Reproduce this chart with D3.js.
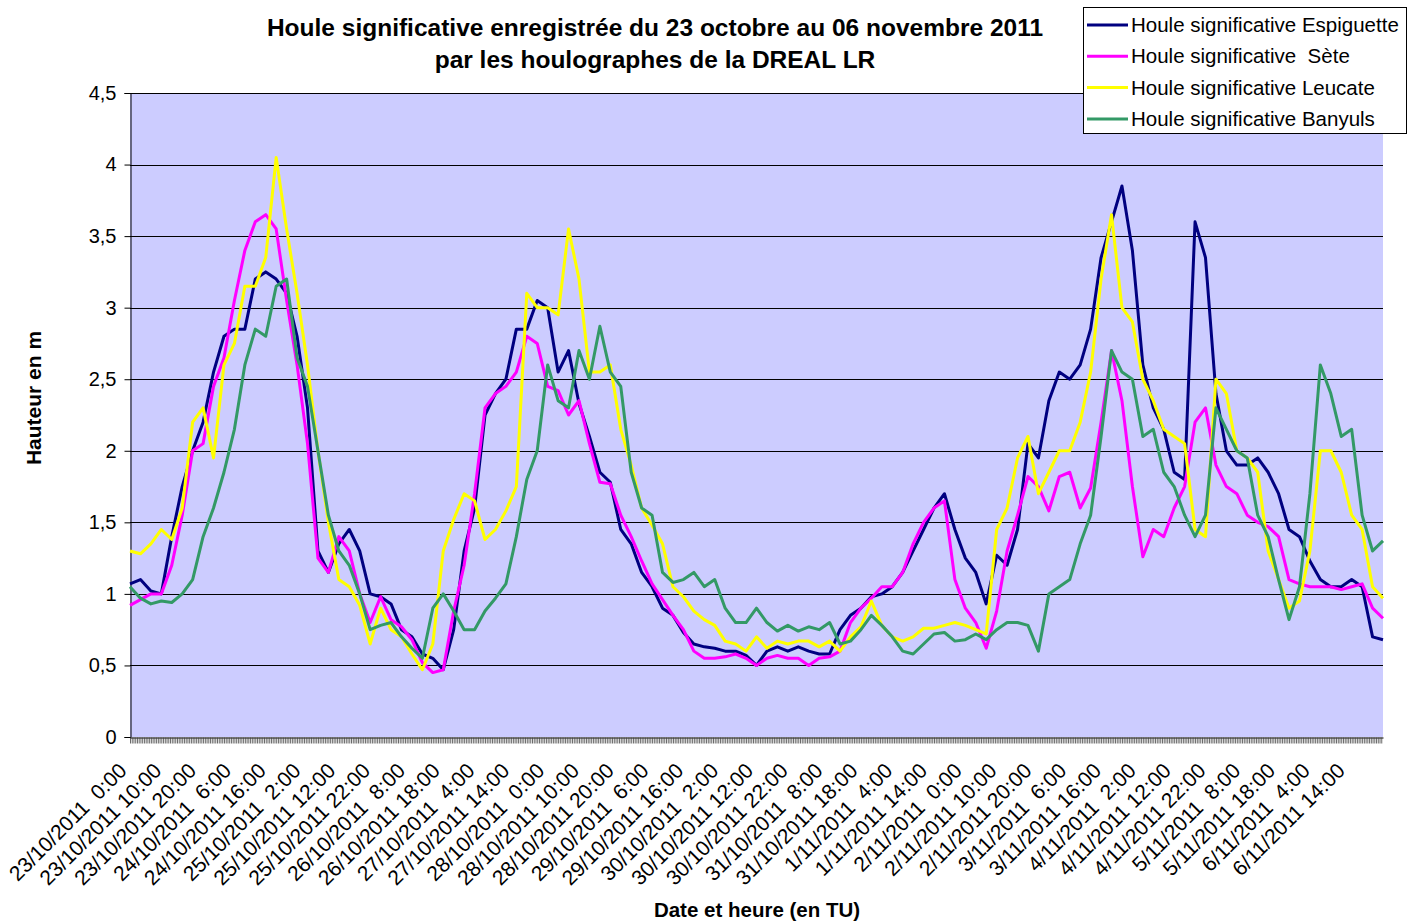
<!DOCTYPE html>
<html>
<head>
<meta charset="utf-8">
<script src="https://d3js.org/d3.v7.min.js"></script>
<style>
    body { margin: 0; background: #fff; }
    text { font-family: Arial, "Liberation Sans", sans-serif; }
    .ttl { font-weight: bold; }
</style>
</head>
<body>
<svg id="chart"></svg>
<script>
// Series names (legend order = drawing order)
var seriesNames = ["Houle significative Espiguette", "Houle significative  Sète",
                   "Houle significative Leucate", "Houle significative Banyuls"];
var seriesColors = ["#000080", "#ff00ff", "#ffff00", "#339966"];

// Wave height (m), one reading every 3 hours from 23/10/2011 0:00 to 07/11/2011 0:00
var espiguette = [
    1.07,1.1,1.02,1.0,1.4,1.75,2.0,2.2,2.55,2.8,
    2.85,2.85,3.2,3.25,3.2,3.1,2.8,2.3,1.3,1.15,
    1.35,1.45,1.3,1.0,0.98,0.93,0.75,0.7,0.58,0.55,
    0.47,0.75,1.3,1.6,2.25,2.4,2.5,2.85,2.85,3.05,
    3.0,2.55,2.7,2.33,2.1,1.85,1.78,1.45,1.35,1.15,
    1.05,0.9,0.85,0.73,0.65,0.63,0.62,0.6,0.6,0.57,
    0.5,0.6,0.63,0.6,0.63,0.6,0.58,0.58,0.75,0.85,
    0.9,0.98,1.0,1.05,1.15,1.3,1.45,1.6,1.7,1.45,
    1.25,1.15,0.93,1.27,1.2,1.45,2.05,1.95,2.35,2.55,
    2.5,2.6,2.85,3.35,3.6,3.85,3.4,2.6,2.3,2.15,
    1.85,1.8,3.6,3.35,2.4,2.0,1.9,1.9,1.95,1.85,
    1.7,1.45,1.4,1.23,1.1,1.05,1.05,1.1,1.05,0.7,
    0.68];
var sete = [
    0.92,0.96,1.0,1.0,1.2,1.55,2.0,2.05,2.45,2.65,
    3.05,3.4,3.6,3.65,3.55,3.05,2.6,2.05,1.25,1.15,
    1.4,1.3,1.0,0.8,0.98,0.82,0.77,0.68,0.52,0.45,
    0.47,0.88,1.2,1.7,2.3,2.4,2.45,2.55,2.8,2.75,
    2.45,2.42,2.25,2.35,2.05,1.78,1.77,1.55,1.4,1.23,
    1.07,0.96,0.85,0.75,0.6,0.55,0.55,0.56,0.58,0.55,
    0.5,0.55,0.57,0.55,0.55,0.5,0.55,0.56,0.6,0.8,
    0.9,0.97,1.05,1.05,1.15,1.35,1.5,1.6,1.65,1.1,
    0.9,0.8,0.62,0.88,1.3,1.55,1.82,1.75,1.58,1.82,
    1.85,1.6,1.74,2.2,2.7,2.35,1.75,1.26,1.45,1.4,
    1.6,1.75,2.2,2.3,1.9,1.75,1.7,1.55,1.5,1.47,
    1.4,1.1,1.07,1.05,1.05,1.05,1.03,1.05,1.07,0.9,
    0.83];
var leucate = [
    1.3,1.28,1.35,1.45,1.38,1.6,2.2,2.3,1.95,2.6,
    2.75,3.15,3.15,3.35,4.05,3.55,3.1,2.6,2.0,1.5,
    1.1,1.05,0.92,0.65,0.9,0.75,0.7,0.58,0.47,0.65,
    1.3,1.52,1.7,1.65,1.38,1.45,1.58,1.75,3.1,3.0,
    3.0,2.95,3.55,3.2,2.55,2.55,2.6,2.15,1.9,1.6,
    1.48,1.35,1.05,0.98,0.88,0.82,0.78,0.67,0.65,0.6,
    0.7,0.62,0.67,0.65,0.67,0.67,0.63,0.67,0.6,0.7,
    0.77,0.95,0.78,0.7,0.67,0.7,0.76,0.76,0.78,0.8,
    0.78,0.75,0.72,1.45,1.6,1.95,2.1,1.7,1.85,2.0,
    2.0,2.2,2.55,3.2,3.65,3.0,2.9,2.5,2.35,2.15,
    2.1,2.05,1.45,1.4,2.5,2.4,2.0,1.95,1.85,1.3,
    1.1,0.9,0.95,1.3,2.0,2.0,1.85,1.55,1.45,1.05,
    0.97];
var banyuls = [
    1.05,0.97,0.93,0.95,0.94,1.0,1.1,1.4,1.6,1.85,
    2.15,2.6,2.85,2.8,3.15,3.2,2.65,2.45,2.0,1.55,
    1.3,1.2,1.0,0.75,0.78,0.8,0.7,0.62,0.55,0.9,
    1.0,0.88,0.75,0.75,0.88,0.97,1.07,1.4,1.8,2.0,
    2.6,2.35,2.3,2.7,2.5,2.87,2.55,2.45,1.85,1.6,
    1.55,1.15,1.08,1.1,1.15,1.05,1.1,0.9,0.8,0.8,
    0.9,0.8,0.74,0.78,0.74,0.77,0.75,0.8,0.65,0.67,
    0.75,0.85,0.78,0.7,0.6,0.58,0.65,0.72,0.73,0.67,
    0.68,0.72,0.68,0.75,0.8,0.8,0.78,0.6,1.0,1.05,
    1.1,1.35,1.55,2.1,2.7,2.55,2.5,2.1,2.15,1.85,
    1.75,1.55,1.4,1.55,2.3,2.15,2.0,1.95,1.55,1.4,
    1.1,0.82,1.05,1.7,2.6,2.4,2.1,2.15,1.55,1.3,
    1.37];

// Category labels shown on the x axis (every 10 hours)
var xLabels = ["23/10/2011  0:00","23/10/2011 10:00","23/10/2011 20:00","24/10/2011  6:00",
    "24/10/2011 16:00","25/10/2011  2:00","25/10/2011 12:00","25/10/2011 22:00",
    "26/10/2011  8:00","26/10/2011 18:00","27/10/2011  4:00","27/10/2011 14:00",
    "28/10/2011  0:00","28/10/2011 10:00","28/10/2011 20:00","29/10/2011  6:00",
    "29/10/2011 16:00","30/10/2011  2:00","30/10/2011 12:00","30/10/2011 22:00",
    "31/10/2011  8:00","31/10/2011 18:00","1/11/2011  4:00","1/11/2011 14:00",
    "2/11/2011  0:00","2/11/2011 10:00","2/11/2011 20:00","3/11/2011  6:00",
    "3/11/2011 16:00","4/11/2011  2:00","4/11/2011 12:00","4/11/2011 22:00",
    "5/11/2011  8:00","5/11/2011 18:00","6/11/2011  4:00","6/11/2011 14:00"];

var yTicks = [0, 0.5, 1, 1.5, 2, 2.5, 3, 3.5, 4, 4.5];

var drawChart = function(target) {
    var screen = {width: 1418, height: 922};
    var plot = {left: 130, right: 1383, top: 93, bottom: 737};

    var svg = d3.select(target)
        .attr("width", screen.width)
        .attr("height", screen.height);

    var start = new Date(Date.UTC(2011, 9, 23, 0));
    var end = new Date(Date.UTC(2011, 10, 7, 0));
    var times = d3.utcHour.every(3).range(start, d3.utcMinute.offset(end, 1));

    var xScale = d3.scaleUtc()
        .domain([start, end])
        .range([plot.left, plot.right]);
    var yScale = d3.scaleLinear()
        .domain([0, 4.5])
        .range([plot.bottom, plot.top]);

    // plot background
    svg.append("rect")
        .attr("x", plot.left).attr("y", plot.top)
        .attr("width", plot.right - plot.left)
        .attr("height", plot.bottom - plot.top)
        .attr("fill", "#ccccff");

    // horizontal grid lines
    svg.append("g")
        .selectAll("line")
        .data(yTicks.slice(1))
        .enter()
        .append("line")
        .attr("x1", plot.left).attr("x2", plot.right)
        .attr("y1", function(d) { return Math.round(yScale(d)) + 0.5; })
        .attr("y2", function(d) { return Math.round(yScale(d)) + 0.5; })
        .attr("stroke", "#000")
        .attr("stroke-width", 1);

    // y axis
    var yAxis = d3.axisLeft(yScale)
        .tickValues(yTicks)
        .tickSize(6)
        .tickPadding(8)
        .tickFormat(function(d) { return String(d).replace(".", ","); });
    var gy = svg.append("g")
        .attr("transform", "translate(" + (plot.left + 0.5) + ",0)")
        .call(yAxis);
    gy.select(".domain").attr("stroke", "#000");
    gy.selectAll("text")
        .attr("font-size", 20)
        .attr("font-family", "Arial, 'Liberation Sans', sans-serif")
        .attr("fill", "#000");

    // x axis with a tick for every half hour
    var xAxis = d3.axisBottom(xScale)
        .tickValues(d3.utcMinute.every(30).range(start, end))
        .tickSize(6)
        .tickSizeOuter(0)
        .tickFormat("");
    var gx = svg.append("g")
        .attr("transform", "translate(0," + (plot.bottom + 0.5) + ")")
        .call(xAxis);
    gx.select(".domain").attr("stroke", "#000");
    gx.selectAll(".tick line").attr("stroke", "#444").attr("stroke-width", 0.8);

    // rotated category labels
    var parseLabel = d3.utcParse("%d/%m/%Y %H:%M");
    svg.append("g")
        .selectAll("text")
        .data(xLabels)
        .enter()
        .append("text")
        .attr("transform", function(d) {
            return "translate(" + (xScale(parseLabel(d)) - 2) + "," + (plot.bottom + 35) + ") rotate(-45)";
        })
        .attr("text-anchor", "end")
        .attr("font-size", 21)
        .style("white-space", "pre")
        .text(function(d) { return d; });

    // series lines
    var allSeries = [espiguette, sete, leucate, banyuls];
    var line = d3.line()
        .defined(function(d) { return d.v != null; })
        .x(function(d) { return xScale(d.t); })
        .y(function(d) { return yScale(d.v); });
    allSeries.forEach(function(values, i) {
        var pts = values.map(function(v, k) { return {t: times[k], v: v}; });
        svg.append("path")
            .datum(pts)
            .attr("d", line)
            .attr("fill", "none")
            .attr("stroke", seriesColors[i])
            .attr("stroke-width", 3)
            .attr("stroke-linejoin", "round");
    });

    // title
    var title = svg.append("text")
        .classed("ttl", true)
        .attr("text-anchor", "middle")
        .attr("font-size", 24.5);
    title.append("tspan").attr("x", 655).attr("y", 36)
        .text("Houle significative enregistrée du 23 octobre au 06 novembre 2011");
    title.append("tspan").attr("x", 655).attr("y", 68)
        .text("par les houlographes de la DREAL LR");

    // axis titles
    svg.append("text")
        .classed("ttl", true)
        .attr("text-anchor", "middle")
        .attr("font-size", 20.5)
        .attr("x", 757).attr("y", 917)
        .text("Date et heure (en TU)");
    svg.append("text")
        .classed("ttl", true)
        .attr("text-anchor", "middle")
        .attr("font-size", 21)
        .attr("transform", "translate(41,398) rotate(-90)")
        .text("Hauteur en m");

    // legend
    var legend = svg.append("g");
    legend.append("rect")
        .attr("x", 1083.5).attr("y", 7.5)
        .attr("width", 323).attr("height", 126)
        .attr("fill", "#fff")
        .attr("stroke", "#000");
    var items = legend.selectAll(".item")
        .data(seriesNames)
        .enter()
        .append("g")
        .attr("transform", function(d, i) { return "translate(0," + (25 + i * 31.3) + ")"; });
    items.append("line")
        .attr("x1", 1087).attr("x2", 1128)
        .attr("stroke", function(d, i) { return seriesColors[i]; })
        .attr("stroke-width", 3);
    items.append("text")
        .attr("x", 1131).attr("y", 7)
        .attr("font-size", 20.5)
        .style("white-space", "pre")
        .text(function(d) { return d; });
}

drawChart("#chart");
</script>
</body>
</html>
